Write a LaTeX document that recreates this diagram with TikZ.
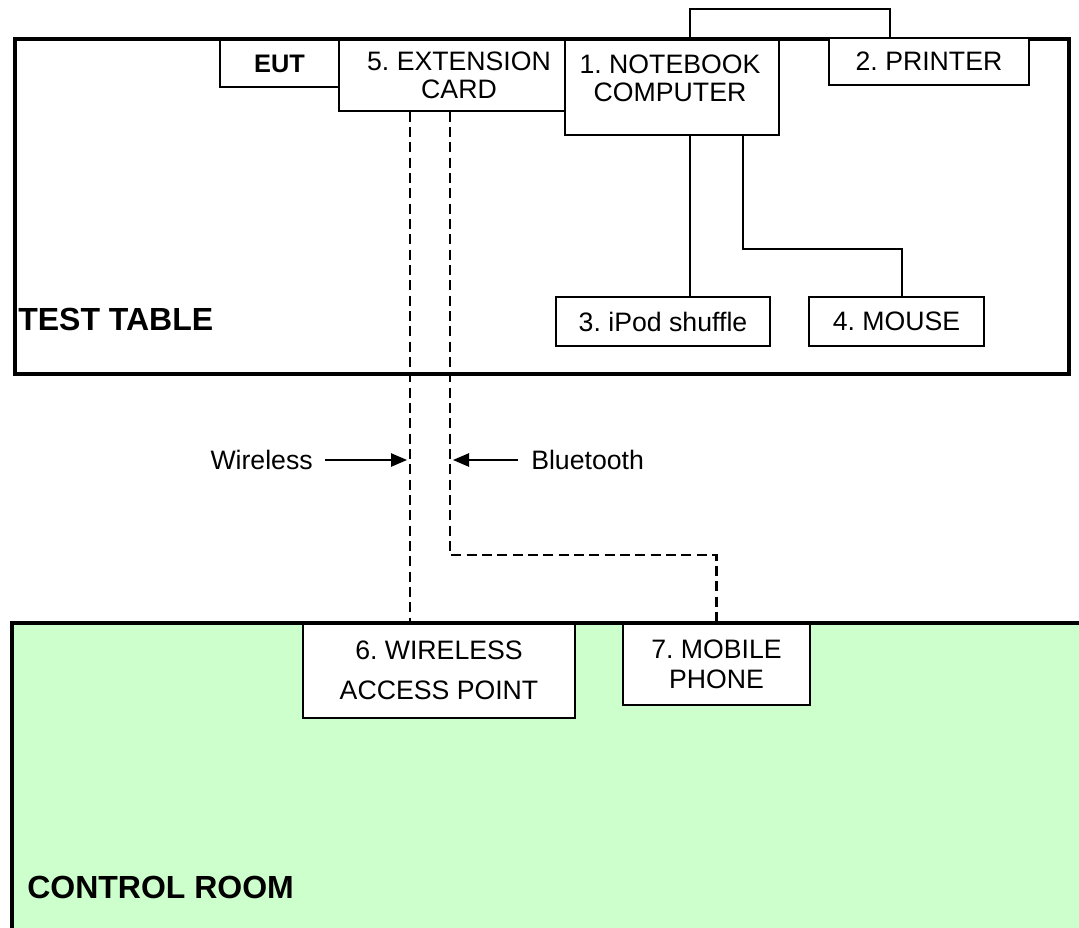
\documentclass[tikz,border=0pt]{standalone}
\usepackage{fontspec}
\setmainfont{Liberation Sans}
\usetikzlibrary{arrows.meta}
\definecolor{roomgreen}{HTML}{CCFFCC}
\frenchspacing
\begin{document}
\begin{tikzpicture}[x=0.75pt,y=-0.75pt,
  box/.style={draw, line width=1.1pt, fill=white, inner sep=0pt, align=center, font=\fontsize{20}{21}\selectfont},
  txt/.style={inner sep=0pt, align=center, font=\fontsize{20}{21}\selectfont},
  wire/.style={line width=1.1pt},
  radio/.style={line width=1.9pt, dash pattern=on 7.5pt off 4pt},
  lbl/.style={font=\fontsize{20}{24}\selectfont, inner sep=0pt},
  room/.style={font=\bfseries\fontsize{24}{28}\selectfont, inner sep=0pt},
  pointer/.style={line width=1.1pt, -{Triangle[length=12pt,width=10pt]}}
]
\useasboundingbox (0,0) rectangle (1079,928);
\clip (0,0) rectangle (1079,928);
% control room area
\fill[roomgreen] (12,623) rectangle (1095,945);
% test table
\draw[line width=2.8pt] (15,39) rectangle (1069,374);
\node[room, anchor=base west] (tt) at (18,330) {TEST TABLE};
\node[room, anchor=base west] (cr) at (27,898) {CONTROL ROOM};
% helper coordinates
\coordinate (pA) at (690,9);
\coordinate (pB) at (890,9);
\coordinate (ipx) at (690,200);
\coordinate (mA) at (743,249);
\coordinate (mB) at (902,249);
\coordinate (wx) at (410,400);
\coordinate (bA) at (450,555);
\coordinate (bB) at (716.5,555);
% boxes
\node[box, minimum width=89.25pt, minimum height=35.25pt, font=\bfseries\fontsize{19}{21}\selectfont] (eut) at (279.5,63.5) {EUT};
\node[box, minimum width=169.5pt, minimum height=53.25pt] (ext) at (452,75.5) {};
\node[txt] (extt) at (459,75) {5. EXTENSION\\CARD};
\node[box, minimum width=160.5pt, minimum height=71.25pt] (nb) at (672,87.5) {};
\node[txt] (nbt) at (670,78) {1. NOTEBOOK\\COMPUTER};
\node[box, minimum width=150pt, minimum height=35.25pt] (pr) at (929,61.5) {2. PRINTER};
\node[box, minimum width=160.5pt, minimum height=36.75pt] (ipod) at (663,321.5) {3. iPod shuffle};
\node[box, minimum width=131.25pt, minimum height=36.75pt] (mouse) at (896.5,321.5) {4. MOUSE};
% wired connectors
\draw[wire] (nb.north -| pA) -- (pA) -- (pB) -- (pr.north -| pB);
\draw[wire] (nb.south -| ipx) -- (ipod.north -| ipx);
\draw[wire] (nb.south -| mA) -- (mA) -- (mB) -- (mouse.north -| mB);
% control room boxes
\node[box, minimum width=204pt, minimum height=71.25pt, font=\fontsize{20}{30}\selectfont] (ap) at (439,670.5) {6. WIRELESS\\ACCESS POINT};
\node[box, minimum width=140.25pt, minimum height=61.5pt, font=\fontsize{20}{22.5}\selectfont] (mob) at (716.5,664) {7. MOBILE\\PHONE};
\draw[line width=3pt] (12,945) -- (12,623) -- (1095,623);
% radio links
\draw[radio] (ext.south -| wx) -- (ap.north -| wx);
\draw[radio] (ext.south -| bA) -- (bA) -- (bB) -- (mob.north -| bB);
% labels with pointers
\node[lbl, anchor=east] (wl) at (313,460) {Wireless};
\node[lbl, anchor=west] (bl) at (531,460) {Bluetooth};
\coordinate (wtip) at (407,460);
\coordinate (btip) at (453,460);
\draw[pointer] ([xshift=9pt]wl.east) -- (wtip);
\draw[pointer] ([xshift=-10pt]bl.west) -- (btip);
\end{tikzpicture}
\end{document}
